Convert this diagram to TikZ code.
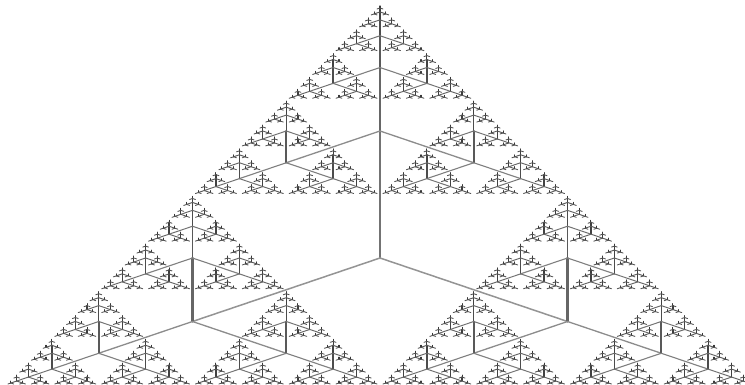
\documentclass[tikz,border=0pt]{standalone}
\newcount\maxlev
\maxlev=7
\def\vwidth#1{\ifcase#1 2.6pt\or 2.1pt\or 1.7pt\or 1.45pt\or 1.3pt\or 1.15pt\else 1.05pt\fi}
\def\dwidth#1{\ifcase#1 1.5pt\or 1.3pt\or 1.1pt\or 1.0pt\or 0.95pt\or 0.9pt\else 0.85pt\fi}
\def\vcolor#1{\ifcase#1 black!55\or black!60\or black!65\or black!70\or black!74\or black!76\else black!78\fi}
\def\dcolor#1{\ifcase#1 black!42\or black!45\or black!50\or black!55\or black!60\or black!65\else black!68\fi}
% #1=cx #2=cy (downward) #3=half width #4=height #5=level
\def\sierp#1#2#3#4#5{%
  \ifnum#5<\maxlev
    \edef\sierpw{\vwidth{#5}}%
    \edef\sierpc{\vcolor{#5}}%
    \pgfsetlinewidth{\sierpw}%
    \pgfsetstrokecolor{\sierpc}%
    \pgfpathmoveto{\pgfqpoint{#1}{-#2}}%
    \pgfpathlineto{\pgfqpoint{#1}{\dimexpr#4/3-#2\relax}}%
    \pgfusepath{stroke}%
    \edef\sierpw{\dwidth{#5}}%
    \edef\sierpc{\dcolor{#5}}%
    \pgfsetlinewidth{\sierpw}%
    \pgfsetstrokecolor{\sierpc}%
    \pgfpathmoveto{\pgfqpoint{\dimexpr#1-#3/2\relax}{\dimexpr-#2-#4/6\relax}}%
    \pgfpathlineto{\pgfqpoint{#1}{-#2}}%
    \pgfpathlineto{\pgfqpoint{\dimexpr#1+#3/2\relax}{\dimexpr-#2-#4/6\relax}}%
    \pgfusepath{stroke}%
    \edef\sierpnext{%
      \noexpand\sierp{#1}{\the\dimexpr#2-#4/3\relax}{\the\dimexpr#3/2\relax}{\the\dimexpr#4/2\relax}{\the\numexpr#5+1\relax}%
      \noexpand\sierp{\the\dimexpr#1-#3/2\relax}{\the\dimexpr#2+#4/6\relax}{\the\dimexpr#3/2\relax}{\the\dimexpr#4/2\relax}{\the\numexpr#5+1\relax}%
      \noexpand\sierp{\the\dimexpr#1+#3/2\relax}{\the\dimexpr#2+#4/6\relax}{\the\dimexpr#3/2\relax}{\the\dimexpr#4/2\relax}{\the\numexpr#5+1\relax}}%
    \expandafter\sierpnext
  \fi}
\begin{document}
\begin{tikzpicture}
\fill[white] (0,0) rectangle (745pt,-385pt);
\useasboundingbox (0,0) rectangle (745pt,-385pt);
\begin{scope}
\pgfsetroundcap
\sierp{380pt}{258pt}{375pt}{381pt}{0}
\end{scope}
\end{tikzpicture}
\end{document}
